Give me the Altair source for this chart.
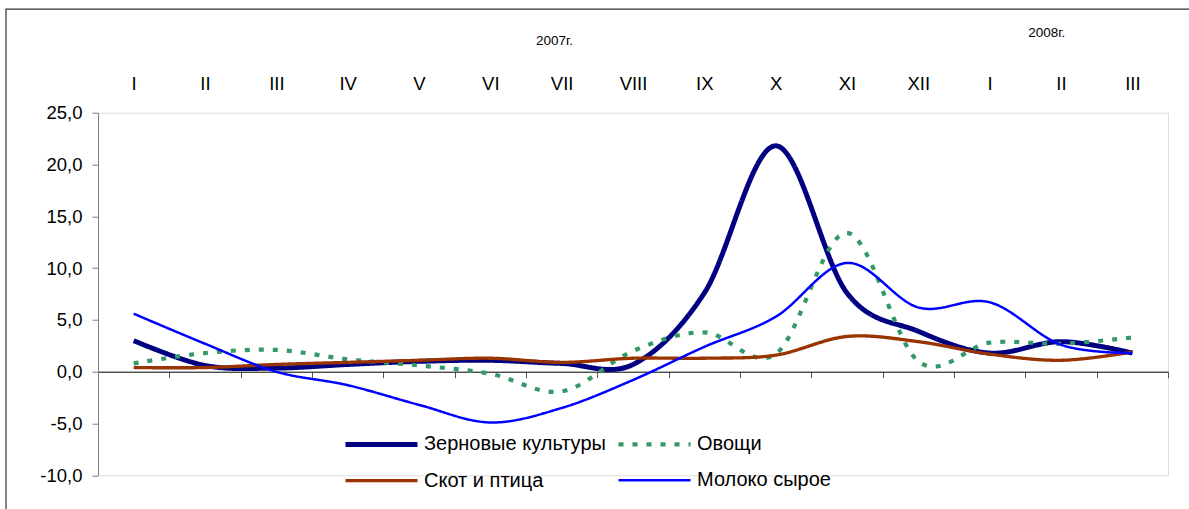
import altair as alt
import pandas as pd

# Month labels along the top of the chart (Jan 2007 .. Mar 2008)
months = ["I", "II", "III", "IV", "V", "VI", "VII", "VIII", "IX", "X", "XI", "XII", "I", "II", "III"]
years = ["2007г.", "2008г."]
year_anchor = [5.9, 12.8]  # month index the year caption sits above

series_names = ["Зерновые культуры", "Овощи", "Скот и птица", "Молоко сырое"]
grain = [3.0, 0.6, 0.35, 0.7, 1.0, 1.1, 0.8, 0.7, 7.6, 21.8, 7.6, 3.9, 1.8, 2.9, 1.8]
vegetables = [0.8, 1.8, 2.1, 1.2, 0.6, -0.2, -1.9, 2.0, 3.8, 1.7, 13.4, 1.0, 2.8, 2.7, 3.3]
livestock = [0.4, 0.4, 0.7, 0.9, 1.1, 1.3, 0.9, 1.3, 1.3, 1.6, 3.4, 2.9, 1.7, 1.1, 1.9]
milk = [5.6, 2.7, 0.0, -1.3, -3.2, -4.9, -3.5, -0.8, 2.4, 5.3, 10.5, 6.2, 6.7, 2.6, 1.8]

colors = ["#000080", "#339966", "#993300", "#0000FF"]
widths = [5, 2.5, 2, 2]
dashes = [[1, 0], [5, 9], [1, 0], [1, 0]]

FONT = "Liberation Sans"
AXIS_FS = 18.5
W, H = 1070, 362.6
Y_MIN, Y_MAX = -10, 25
zero_offset = H * (0 - Y_MIN) / (Y_MAX - Y_MIN)

rows = []
for name, vals in zip(series_names, [grain, vegetables, livestock, milk]):
    for i, v in enumerate(vals):
        rows.append({"series": name, "idx": i, "value": v})
df = pd.DataFrame(rows)

x_scale = alt.Scale(domain=[-0.5, len(months) - 0.5], nice=False, zero=False)
y_scale = alt.Scale(domain=[Y_MIN, Y_MAX], nice=False, zero=False)

# Wide, flat legend swatch: a horizontal segment 1.5x the nominal symbol size
legend = alt.Legend(
    title=None, orient="none", legendX=257, legendY=305, columns=2, direction="horizontal",
    symbolType="M-1.5,0H1.5", symbolSize=2304, labelFontSize=20, labelFont=FONT,
    labelColor="black", labelOffset=16, columnPadding=4, rowPadding=0,
    labelLimit=0,
)

y_label = "replace((datum.value < 0 ? '-' : '') + format(abs(datum.value), '.1f'), '.', ',')"

lines = alt.Chart(df).mark_line(interpolate="cardinal", tension=0, strokeJoin="round").encode(
    x=alt.X(
        "idx:Q", scale=x_scale,
        axis=alt.Axis(
            orient="bottom", offset=-zero_offset, title=None, grid=False,
            values=[k - 0.5 for k in range(1, len(months) + 1)], labels=False,
            tickSize=6, tickColor="#555555", domainColor="#000000", domainWidth=1,
        ),
    ),
    y=alt.Y(
        "value:Q", scale=y_scale,
        axis=alt.Axis(
            values=list(range(Y_MIN, Y_MAX + 1, 5)), labelExpr=y_label, title=None,
            grid=False, tickSize=6, tickColor="#808080", domainColor="#808080",
            labelFontSize=AXIS_FS, labelFont=FONT, labelColor="black", labelPadding=10,
        ),
    ),
    color=alt.Color("series:N", scale=alt.Scale(domain=series_names, range=colors), legend=legend),
    strokeWidth=alt.StrokeWidth("series:N", scale=alt.Scale(domain=series_names, range=widths), legend=legend),
    strokeDash=alt.StrokeDash("series:N", scale=alt.Scale(domain=series_names, range=dashes), legend=legend),
    detail="series:N",
)

# Roman month captions on a top axis sharing the x scale
month_expr = "[" + ",".join("'" + m + "'" for m in months) + "][datum.value]"
top_axis = alt.Chart(pd.DataFrame({"idx": list(range(len(months)))})).mark_point(opacity=0).encode(
    x=alt.X(
        "idx:Q", scale=x_scale,
        axis=alt.Axis(
            orient="top", values=list(range(len(months))), labelExpr=month_expr,
            domain=False, ticks=False, grid=False, title=None, labelPadding=19,
            labelFontSize=AXIS_FS, labelFont=FONT, labelColor="black",
        ),
    )
)

year_df = pd.DataFrame({"label": years, "pos": year_anchor})
year_2007 = alt.Chart(year_df.iloc[[0]]).mark_text(fontSize=13.5, font=FONT, color="black").encode(
    x=alt.X("pos:Q", scale=x_scale, axis=None), y=alt.value(-72), text="label:N"
)
year_2008 = alt.Chart(year_df.iloc[[1]]).mark_text(fontSize=13.5, font=FONT, color="black").encode(
    x=alt.X("pos:Q", scale=x_scale, axis=None), y=alt.value(-80), text="label:N"
)

# Chart-area frame
frame = alt.Chart(pd.DataFrame({"a": [0]})).mark_rect(
    fillOpacity=0, stroke="#333333", strokeWidth=1.2
).encode(x=alt.value(-92), y=alt.value(-103.5), x2=alt.value(1200), y2=alt.value(600))

chart = alt.layer(frame, lines, top_axis, year_2007, year_2008).resolve_axis(
    x="independent"
).properties(
    width=W, height=H,
    autosize=alt.AutoSizeParams(type="none"),
    padding={"left": 98, "top": 112.7, "right": 21, "bottom": 33.7},
).configure_view(stroke=None).configure(font=FONT, background="white")

chart.save("out.html", embed_options={"renderer": "svg", "actions": False})
